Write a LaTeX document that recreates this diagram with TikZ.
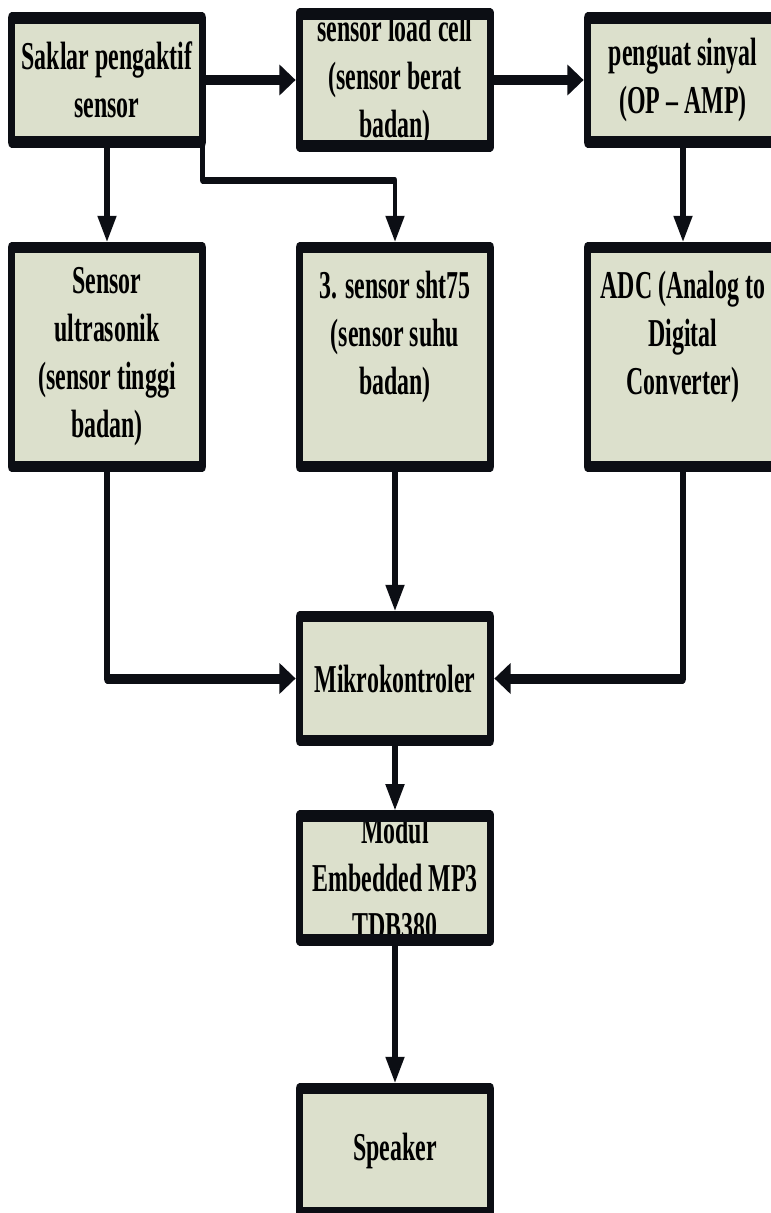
\documentclass[tikz,border=0pt]{standalone}
\usepackage{fontspec}
\setmainfont{Liberation Serif}[FakeStretch=0.96]
\usetikzlibrary{arrows.meta}
\definecolor{boxfill}{RGB}{220,224,204}
\definecolor{ink}{RGB}{12,14,20}
\begin{document}
\begin{tikzpicture}[x=1pt,y=-1pt,
  blk/.style={fill=boxfill,minimum width=303pt,minimum height=123.5pt,inner sep=0pt,align=center,font=\fontsize{39.5}{48}\selectfont\bfseries},
  tall/.style={minimum height=218.5pt},
  rim/.style={draw=ink,line width=11.5pt,line join=round},
  link/.style={draw=ink,line width=10pt,line join=round,shorten >=5.75pt,-{Triangle[length=26pt,width=29pt]}},
  thinlink/.style={link,line width=7pt}]

\useasboundingbox (0,0) rectangle (771,1213);

\begin{scope}[transform canvas={xscale=0.63},x=1.5873pt]

\node[blk] (saklar) at (107,80) {Saklar pengaktif\\sensor};
\node[blk] (loadcell) at (395,80) {sensor load cell\\(sensor berat\\badan)};
\node[blk] (penguat) at (683,80) {penguat sinyal\\(OP – AMP)};
\node[blk,tall] (ultra) at (107,357) {Sensor\\ultrasonik\\(sensor tinggi\\badan)};
\node[blk,tall] (sht) at (395,357) {3. sensor sht75\\(sensor suhu\\badan)\\\mbox{}};
\node[blk,tall] (adc) at (683,357) {ADC (Analog to\\Digital\\Converter)\\\mbox{}};
\node[blk] (mikro) at (395,678.5) {Mikrokontroler};
\node[blk] (modul) at (395,878) {Modul\\Embedded MP3\\TDB380};
\node[blk] (speaker) at (395,1150.5) {Speaker};
\coordinate (elbow) at (395,180);

\draw[link] (saklar) -- (loadcell);
\draw[link] (loadcell) -- (penguat);
\draw[link] (saklar) -- (ultra);
\draw[thinlink] (saklar.south east) |- (elbow) -- (sht);
\draw[link] (penguat) -- (adc);
\draw[link] (ultra) |- (mikro);
\draw[link] (sht) -- (mikro);
\draw[link] (adc) |- (mikro);
\draw[link] (mikro) -- (modul);
\draw[link] (modul) -- (speaker);

\draw[rim] (saklar.south west) rectangle (saklar.north east);
\draw[rim] (loadcell.south west) rectangle (loadcell.north east);
\draw[rim] (penguat.south west) rectangle (penguat.north east);
\draw[rim] (ultra.south west) rectangle (ultra.north east);
\draw[rim] (sht.south west) rectangle (sht.north east);
\draw[rim] (adc.south west) rectangle (adc.north east);
\draw[rim] (mikro.south west) rectangle (mikro.north east);
\draw[rim] (modul.south west) rectangle (modul.north east);
\draw[rim] (speaker.south west) rectangle (speaker.north east);

\end{scope}
\end{tikzpicture}
\end{document}
